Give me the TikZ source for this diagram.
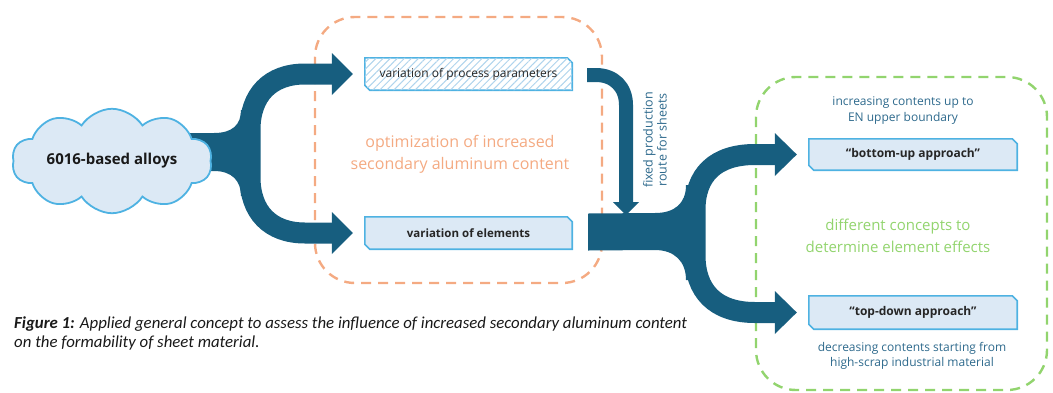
\documentclass[tikz,border=0pt]{standalone}
\usepackage{fontspec}
\setmainfont{Open Sans}
\newfontfamily\capfont{Carlito}
\usetikzlibrary{shapes.symbols,patterns.meta,backgrounds,calc}

\definecolor{flow}{RGB}{23,94,127}
\definecolor{boxline}{RGB}{78,178,226}
\definecolor{boxfill}{RGB}{220,233,245}
\definecolor{hatchblue}{RGB}{175,212,237}
\definecolor{optorange}{RGB}{244,170,130}
\definecolor{conceptgreen}{RGB}{146,212,110}
\definecolor{noteteal}{RGB}{45,105,140}

% outline of a box with the top-right and bottom-left corners snipped off
\newcommand\snipoutline[2]{%
  \path[draw=boxline, line width=1.6pt, #2]
    (#1.north west) -- ([xshift=-5pt]#1.north east) -- ([yshift=-5pt]#1.north east)
    -- (#1.south east) -- ([xshift=5pt]#1.south west) -- ([yshift=5pt]#1.south west) -- cycle;}

\tikzset{
  stepbox/.style={minimum width=207pt, minimum height=32pt, inner sep=0pt, text=black!85},
  regionbox/.style={line width=2.4pt, dash pattern=on 10pt off 7pt, rounded corners=40pt},
  band/.style={draw=flow, line cap=butt},
  head/.style={fill=flow},
  note/.style={text=noteteal, align=center, font=\fontsize{12}{15}\selectfont},
}

\begin{document}
\begin{tikzpicture}[x=1pt, y=-1pt]
\useasboundingbox (0,0) rectangle (1053,392);

% dashed regions
\draw[regionbox, optorange] (315,17) rectangle (602,283);
\draw[regionbox, conceptgreen] (756,77) rectangle (1047,390);

\node[text=optorange, align=center, font=\fontsize{16}{22}\selectfont] (opt) at (460,154)
  {optimization of increased\\secondary aluminum content};
\node[text=conceptgreen, align=center, font=\fontsize{15}{22}\selectfont] (concepts) at (898,236)
  {different concepts to\\determine element effects};

% step boxes
\node[stepbox, font=\fontsize{12}{14}\selectfont] (vp) at (468.5,74) {variation of process parameters};
\node[stepbox, font=\bfseries\fontsize{11.5}{14}\selectfont] (ve) at (468.5,233) {variation of elements};
\node[stepbox, minimum width=208pt, minimum height=31pt, font=\bfseries\fontsize{12}{14}\selectfont] (bu) at (913,154.5) {“bottom-up approach”};
\node[stepbox, minimum width=208pt, minimum height=33pt, font=\bfseries\fontsize{12}{14}\selectfont] (td) at (913,312.5) {“top-down approach”};
\begin{scope}[on background layer]
  \snipoutline{vp}{fill=white, postaction={pattern={Lines[angle=45,distance=5pt,line width=1pt]}, pattern color=hatchblue}}
  \snipoutline{ve}{fill=boxfill}
  \snipoutline{bu}{fill=boxfill}
  \snipoutline{td}{fill=boxfill}
\end{scope}

\node[note, font=\fontsize{12}{16}\selectfont] (upnote) at (903,111) {increasing contents up to\\EN upper boundary};
\node[note, font=\fontsize{12}{14.5}\selectfont] (downnote) at (912,356) {decreasing contents starting from\\high-scrap industrial material};

% left fork: alloy -> process parameters / elements
\coordinate (lt) at ($(vp.west)+(-12,0)$);
\coordinate (lb) at ($(ve.west)+(-12,0)$);
\fill[flow] (190,133) -- (214,133) .. controls (232,133) and (241,125) .. (241,110) -- (256,110)
  -- (256,196) -- (241,196) .. controls (241,181) and (232,171) .. (214,171) -- (190,171) -- cycle;
\draw[band, line width=21pt] ($(lt)+(-21,0)$) -- (305,74) .. controls (270,74) and (250,95) .. (250,130)
  -- (250,177) .. controls (250,212) and (270,233) .. (305,233) -- ($(lb)+(-21,0)$);
\fill[head] (lt) -- ($(lt)+(-21,-21)$) -- ($(lt)+(-21,21)$) -- cycle;
\fill[head] (lb) -- ($(lb)+(-21,-21)$) -- ($(lb)+(-21,21)$) -- cycle;

% fixed production route
\coordinate (rs) at ($(ve.east)+(16,0)$);
\coordinate (dt) at (626,215);
\draw[band, line width=14pt] ($(vp.east)+(15,1)$) -- (596,75) .. controls (614,75) and (626,87) .. (626,105)
  -- ($(dt)+(0,-12)$);
\fill[head] (dt) -- ($(dt)+(-13,-13)$) -- ($(dt)+(13,-13)$) -- cycle;
\node[note, rotate=90, font=\fontsize{12.5}{14}\selectfont] (route) at (655,140) {fixed production\\route for sheets};

% right fork: fixed route -> two approaches
\coordinate (rt) at ($(bu.west)+(-12,0)$);
\coordinate (rb) at ($(td.west)+(-12,0)$);
\fill[flow] ($(rs)+(0,-19.5)$) -- (655,213) .. controls (674,213) and (686,204) .. (686,185) -- (700,185)
  -- (700,280) -- (686,280) .. controls (686,261) and (674,250) .. (655,250) -- ($(rs)+(0,17.5)$) -- cycle;
\draw[band, line width=21pt] ($(rt)+(-22,0)$) -- (755,154.5) .. controls (715,154.5) and (695,175) .. (695,210)
  -- (695,255) .. controls (695,291) and (715,312.5) .. (755,312.5) -- ($(rb)+(-22,0)$);
\fill[head] (rt) -- ($(rt)+(-22,-21.5)$) -- ($(rt)+(-22,21.5)$) -- cycle;
\fill[head] (rb) -- ($(rb)+(-22,-21.5)$) -- ($(rb)+(-22,21.5)$) -- cycle;

% source cloud
\node[cloud, cloud puffs=10, cloud puff arc=115, aspect=2.4, draw=boxline, fill=boxfill, line width=1.8pt,
  minimum width=200pt, minimum height=84pt, inner sep=0pt, text=black!90,
  font=\bfseries\fontsize{15}{18}\selectfont] (alloy) at (112,161) {6016-based alloys};

% caption
\node[anchor=north west, align=left, inner sep=0pt, text=black!90,
  font=\capfont\itshape\fontsize{16.8}{19}\selectfont] (caption) at (14,317)
  {\textbf{Figure 1:} Applied general concept to assess the influence of increased secondary aluminum content\\on the formability of sheet material.};
\end{tikzpicture}
\end{document}
